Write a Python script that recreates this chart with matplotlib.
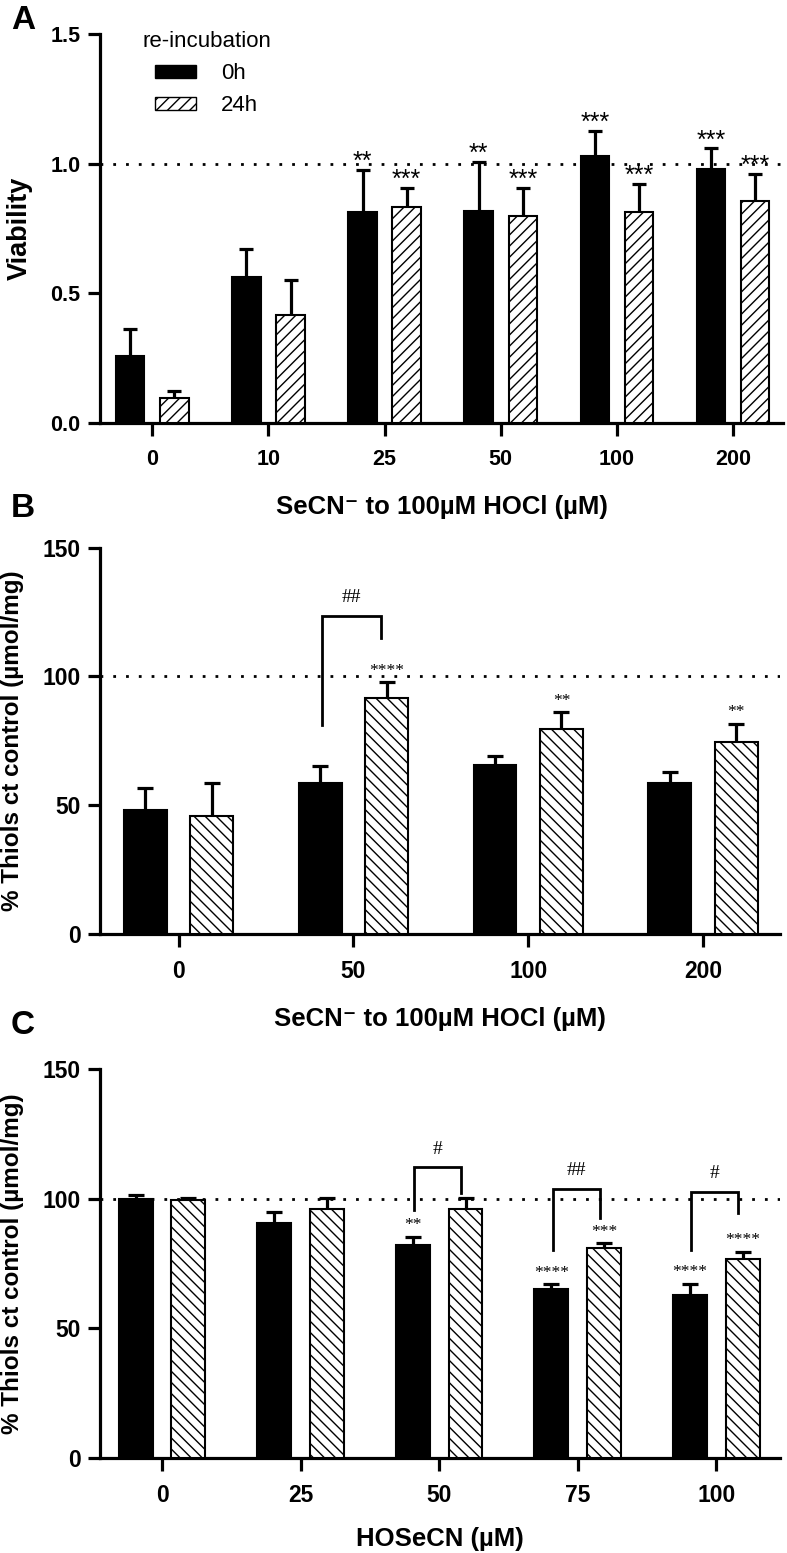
import numpy as np
import matplotlib
matplotlib.use('Agg')
import matplotlib.pyplot as plt
from matplotlib.patches import Patch

plt.rcParams['font.family'] = ['Liberation Sans', 'DejaVu Sans']
plt.rcParams['hatch.linewidth'] = 1.0
plt.rcParams['hatch.color'] = 'black'

# panel A - viability
a_cats = ['0', '10', '25', '50', '100', '200']
a_0h = [0.260, 0.563, 0.812, 0.818, 1.031, 0.981]
a_0h_err = [0.103, 0.107, 0.163, 0.188, 0.094, 0.078]
a_24h = [0.098, 0.418, 0.834, 0.800, 0.813, 0.858]
a_24h_err = [0.026, 0.133, 0.074, 0.108, 0.109, 0.102]
a_0h_sig = ['', '', '**', '**', '***', '***']
a_24h_sig = ['', '', '***', '***', '***', '***']

# panel B - thiols, SeCN- to HOCl
b_cats = ['0', '50', '100', '200']
b_0h = [48.3, 58.6, 65.8, 58.6]
b_0h_err = [8.5, 6.8, 3.2, 4.2]
b_24h = [45.7, 91.6, 79.6, 74.5]
b_24h_err = [12.9, 6.1, 6.5, 7.2]
b_0h_sig = ['', '', '', '']
b_24h_sig = ['', '****', '**', '**']
# (group, left leg bottom, top, right leg bottom, label)
b_brackets = [(1, 81.3, 123.4, 115.1, '##')]

# panel C - thiols, HOSeCN
c_cats = ['0', '25', '50', '75', '100']
c_0h = [100.0, 90.7, 82.1, 65.3, 62.7]
c_0h_err = [1.5, 4.3, 3.2, 1.7, 4.4]
c_24h = [99.6, 95.9, 95.9, 80.9, 76.6]
c_24h_err = [0.8, 4.5, 4.5, 1.9, 3.0]
c_0h_sig = ['', '', '**', '****', '****']
c_24h_sig = ['', '', '', '***', '****']
c_brackets = [(2, 95.6, 112.0, 102.0, '#'),
              (3, 80.2, 103.6, 92.6, '##'),
              (4, 80.2, 102.4, 94.4, '#')]

W = 0.245
OFF = 0.19
LW = 2.3


def draw_panel(ax, cats, v0, e0, v1, e1, s0, s1, hatch, ref, ylim, yticks, yticklabels,
               xlim, tick_fs, capsize, star_font, star_fs, star_dy):
    x = np.arange(len(cats))
    ax.bar(x - OFF, v0, W, color='black', edgecolor='black', linewidth=1.5, zorder=3)
    ax.bar(x + OFF, v1, W, color='white', edgecolor='black', linewidth=1.5,
           hatch=hatch, zorder=3)
    for xs, v, e in [(x - OFF, v0, e0), (x + OFF, v1, e1)]:
        _, caps, _ = ax.errorbar(xs, v, yerr=[np.zeros(len(v)), e], fmt='none',
                                 ecolor='black', elinewidth=LW, capsize=capsize,
                                 capthick=LW, zorder=2)
        caps[0].set_visible(False)
    for xs, v, e, sig in [(x - OFF, v0, e0, s0), (x + OFF, v1, e1, s1)]:
        for xi, vi, ei, si in zip(xs, v, e, sig):
            if si:
                ax.annotate(si, (xi, vi + ei), xytext=(0, star_dy), textcoords='offset points',
                            ha='center', va='baseline', fontsize=star_fs, family=star_font)
    ax.axhline(ref, color='black', linewidth=2, linestyle=(0, (1, 3.6)), zorder=1)
    ax.set_xlim(*xlim)
    ax.set_ylim(*ylim)
    ax.set_xticks(x)
    ax.set_xticklabels(cats)
    ax.set_yticks(yticks)
    ax.set_yticklabels(yticklabels)
    for s in ['top', 'right']:
        ax.spines[s].set_visible(False)
    for s in ['left', 'bottom']:
        ax.spines[s].set_linewidth(LW)
    ax.tick_params(axis='both', direction='out', length=9, width=LW, labelsize=tick_fs)
    ax.tick_params(axis='x', pad=10)
    ax.tick_params(axis='y', pad=5)
    for lab in ax.get_xticklabels() + ax.get_yticklabels():
        lab.set_fontweight('bold')


def draw_brackets(ax, brackets):
    for g, yl, yt, yr, lab in brackets:
        xl, xr = g - 0.18, g + 0.16
        ax.plot([xl, xl, xr, xr], [yl, yt, yt, yr], color='black', linewidth=2,
                solid_joinstyle='miter', zorder=4)
        ax.annotate(lab, ((xl + xr) / 2, yt), xytext=(0, 10), textcoords='offset points',
                    ha='center', va='baseline', fontsize=14, family='Liberation Serif')


fig = plt.figure(figsize=(7.87, 15.53), dpi=100)
axA = fig.add_axes([0.1271, 0.7276, 0.8679, 0.2505])
axB = fig.add_axes([0.1271, 0.3986, 0.8640, 0.2487])
axC = fig.add_axes([0.1271, 0.0612, 0.8640, 0.2505])

draw_panel(axA, a_cats, a_0h, a_0h_err, a_24h, a_24h_err, a_0h_sig, a_24h_sig, '///',
           1.0, (0, 1.5), [0, 0.5, 1.0, 1.5], ['0.0', '0.5', '1.0', '1.5'],
           (-0.45, 5.43), 15.5, 5, 'Liberation Sans', 18, 0.7)
draw_panel(axB, b_cats, b_0h, b_0h_err, b_24h, b_24h_err, b_0h_sig, b_24h_sig, '\\\\\\',
           100, (0, 150), [0, 50, 100, 150], ['0', '50', '100', '150'],
           (-0.45, 3.44), 16.5, 6, 'Liberation Serif', 12.5, 5.5)
draw_panel(axC, c_cats, c_0h, c_0h_err, c_24h, c_24h_err, c_0h_sig, c_24h_sig, '\\\\\\',
           100, (0, 150), [0, 50, 100, 150], ['0', '50', '100', '150'],
           (-0.448, 4.46), 16.5, 6, 'Liberation Serif', 12.5, 5.5)
draw_brackets(axB, b_brackets)
draw_brackets(axC, c_brackets)

xlab = 'SeCN\u207b to 100µM HOCl (µM)'
axA.set_xlabel(xlab, fontsize=18.5, fontweight='bold')
axA.xaxis.set_label_coords(0.5, -0.185)
axB.set_xlabel(xlab, fontsize=18.5, fontweight='bold')
axB.xaxis.set_label_coords(0.5, -0.19)
axC.set_xlabel('HOSeCN (µM)', fontsize=18.5, fontweight='bold')
axC.xaxis.set_label_coords(0.5, -0.177)

axA.set_ylabel('Viability', fontsize=19.5, fontweight='bold')
axA.yaxis.set_label_coords(-0.098, 0.5)
axB.set_ylabel('% Thiols ct control (µmol/mg)', fontsize=17.5, fontweight='bold')
axB.yaxis.set_label_coords(-0.112, 0.5)
axC.set_ylabel('% Thiols ct control (µmol/mg)', fontsize=17.5, fontweight='bold')
axC.yaxis.set_label_coords(-0.112, 0.5)

handles = [Patch(facecolor='black', edgecolor='black', label='0h'),
           Patch(facecolor='white', edgecolor='black', hatch='///', label='24h')]
axA.legend(handles=handles, title='re-incubation', loc='upper left',
           bbox_to_anchor=(0.0615, 1.0077), frameon=False, fontsize=16, title_fontsize=16,
           handlelength=1.86, handleheight=0.5, handletextpad=1.1, labelspacing=0.5,
           borderpad=0, borderaxespad=0)

for lab, ytop in [('A', 5), ('B', 493), ('C', 1010)]:
    fig.text(0.014, 1 - ytop / 1553, lab, fontsize=24, fontweight='bold', va='top', ha='left')

fig.savefig('out.png', dpi=100)
